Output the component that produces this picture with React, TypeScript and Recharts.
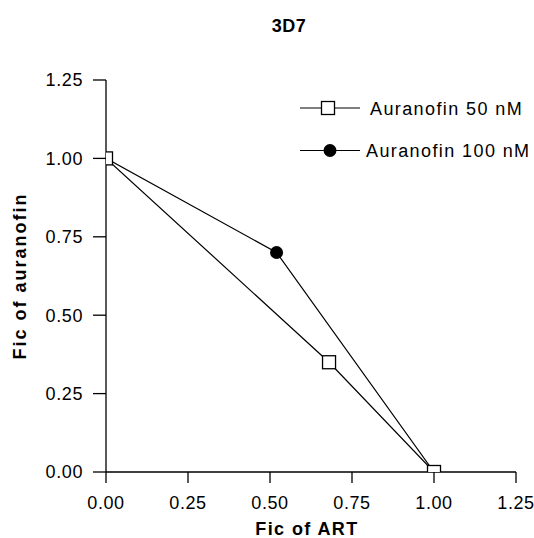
import { Legend, Scatter, ScatterChart, XAxis, YAxis } from "recharts";

const ficArt50 = [0, 0.68, 1.0];
const ficAur50 = [1.0, 0.35, 0];
const ficArt100 = [0, 0.52, 1.0];
const ficAur100 = [1.0, 0.7, 0];
const axisTicks = [0, 0.25, 0.5, 0.75, 1.0, 1.25];
const seriesNames = ["Auranofin 50 nM", "Auranofin 100 nM"];

const data50 = ficArt50.map((x, i) => ({ x, y: ficAur50[i] }));
const data100 = ficArt100.map((x, i) => ({ x, y: ficAur100[i] }));

const font = "'Liberation Sans', Arial, Helvetica, sans-serif";
const tickStyle = {
  fontSize: 18,
  fill: "#000",
  fontFamily: font,
  letterSpacing: 0.6,
};

function SquareDot(props: any) {
  const { cx, cy } = props;
  return (
    <rect
      x={cx - 6.5}
      y={cy - 6.5}
      width={13}
      height={13}
      fill="#fff"
      stroke="#000"
      strokeWidth={1.3}
    />
  );
}

function CircleDot(props: any) {
  const { cx, cy } = props;
  return <circle cx={cx} cy={cy} r={6.5} fill="#000" />;
}

function LegendBox() {
  return (
    <svg width={234} height={80} style={{ overflow: "visible" }}>
      {seriesNames.map((name, i) => {
        const y = 23 + i * 42.5;
        return (
          <g key={name}>
            <line x1={0} x2={60} y1={y} y2={y} stroke="#000" strokeWidth={1.2} />
            {i === 0 ? (
              <rect x={21.5} y={y - 6.5} width={13} height={13} fill="#fff" stroke="#000" strokeWidth={1.3} />
            ) : (
              <circle cx={30} cy={y} r={6.5} fill="#000" />
            )}
            <text
              x={i === 0 ? 70 : 66}
              y={y + 6.5}
              fontSize={18}
              fontFamily={font}
              letterSpacing={1.4}
              fill="#000"
            >
              {name}
            </text>
          </g>
        );
      })}
    </svg>
  );
}

export default function App() {
  return (
    <div
      style={{
        position: "absolute",
        left: 0,
        top: 0,
        width: 534,
        height: 538,
        background: "#fff",
      }}
    >
      <div
        style={{
          position: "absolute",
          left: 189,
          top: 16.5,
          width: 200,
          textAlign: "center",
          fontFamily: font,
          fontWeight: "bold",
          fontSize: 18,
          lineHeight: "18px",
          letterSpacing: 0.5,
        }}
      >
        3D7
      </div>
      <ScatterChart
        width={534}
        height={538}
        margin={{ top: 80, right: 18, bottom: 0, left: 0 }}
      >
        <XAxis
          type="number"
          dataKey="x"
          domain={[0, 1.25]}
          ticks={axisTicks}
          tickFormatter={(v: number) => v.toFixed(2)}
          height={66}
          tickSize={11}
          tickMargin={13}
          tick={tickStyle}
          stroke="#000"
          strokeWidth={1.3}
          allowDataOverflow
          label={{
            value: "Fic of ART",
            position: "insideBottom",
            offset: 3,
            dx: -4,
            style: {
              fontSize: 18,
              fontWeight: "bold",
              fontFamily: font,
              fill: "#000",
              letterSpacing: 1.4,
            },
          }}
        />
        <YAxis
          type="number"
          dataKey="y"
          domain={[0, 1.25]}
          ticks={axisTicks}
          tickFormatter={(v: number) => v.toFixed(2)}
          width={106}
          tickSize={13}
          tickMargin={10}
          tick={tickStyle}
          stroke="#000"
          strokeWidth={1.3}
          allowDataOverflow
          label={{
            value: "Fic of auranofin",
            position: "center",
            angle: -90,
            dx: -33,
            style: {
              fontSize: 18,
              fontWeight: "bold",
              fontFamily: font,
              fill: "#000",
              letterSpacing: 2,
            },
          }}
        />
        <Legend
          layout="vertical"
          align="center"
          verticalAlign="middle"
          content={() => <LegendBox />}
          wrapperStyle={{ position: "absolute", left: 300, top: 85, width: 234 }}
        />
        <Scatter
          name={seriesNames[1]}
          data={data100}
          line={{ stroke: "#000", strokeWidth: 1.2 }}
          shape={CircleDot}
          isAnimationActive={false}
        />
        <Scatter
          name={seriesNames[0]}
          data={data50}
          line={{ stroke: "#000", strokeWidth: 1.2 }}
          shape={SquareDot}
          isAnimationActive={false}
        />
      </ScatterChart>
    </div>
  );
}
